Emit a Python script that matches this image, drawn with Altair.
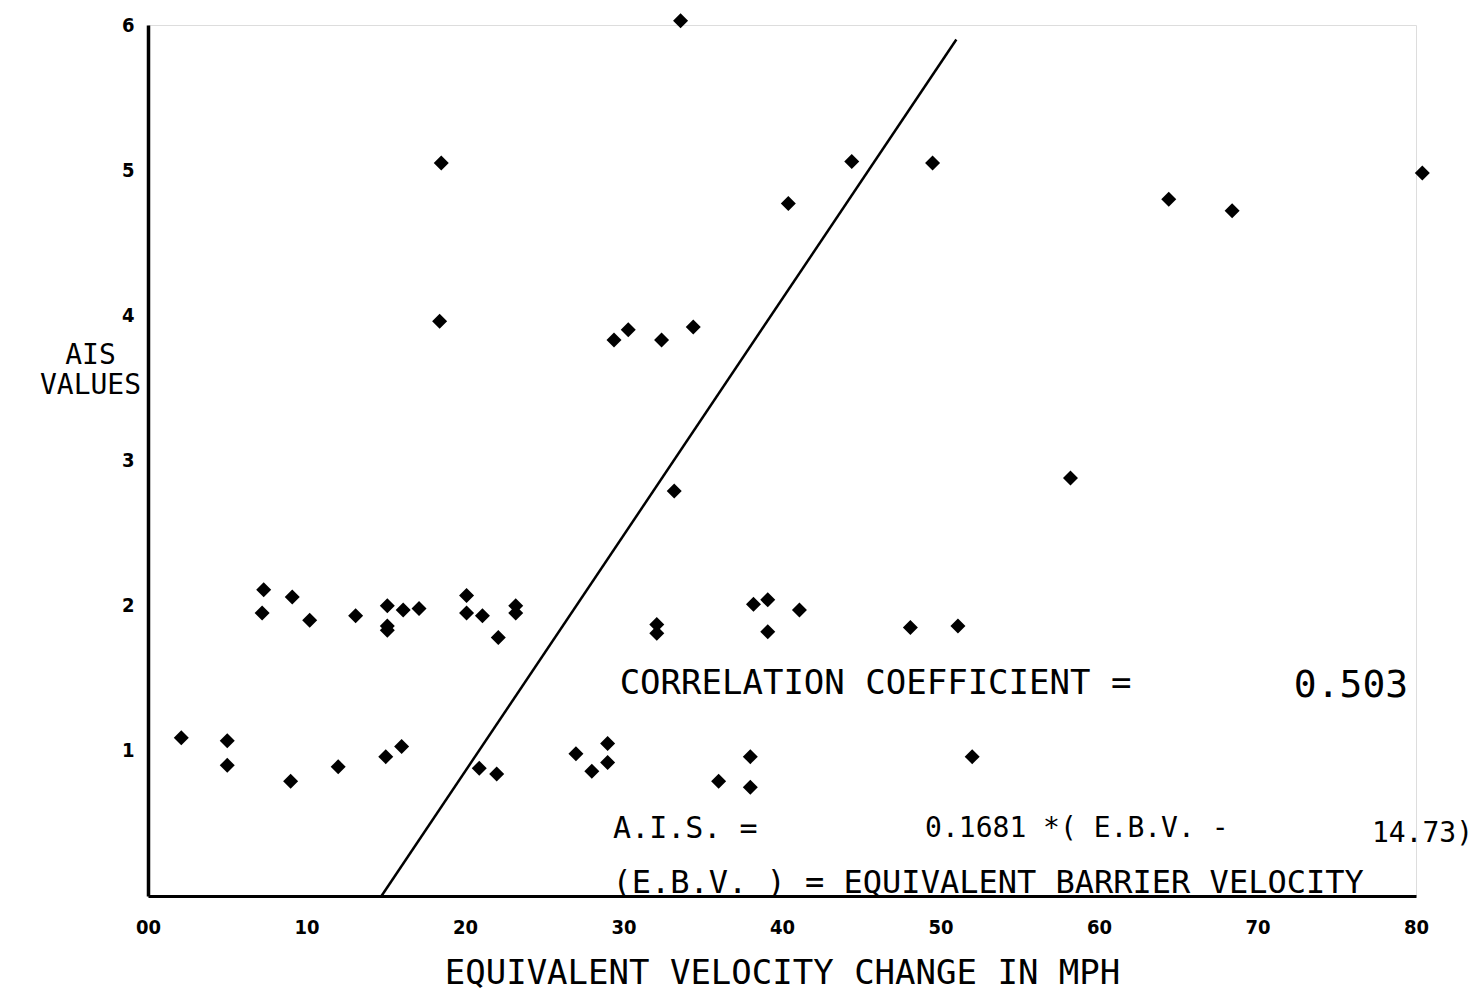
import altair as alt
import pandas as pd

# Equivalent velocity change (mph) and AIS values
ebv = [33.6, 18.5, 44.4, 49.5, 80.4, 40.4, 64.4, 68.4,
       18.4, 29.4, 30.3, 32.4, 34.4, 33.2, 58.2,
       7.3, 7.2, 9.1, 10.2, 13.1, 15.1, 15.1, 15.1, 16.1, 17.1,
       20.1, 20.1, 21.1, 22.1, 23.2, 23.2, 32.1, 32.1,
       38.2, 39.1, 39.1, 41.1, 48.1, 51.1,
       2.1, 5.0, 5.0, 9.0, 12.0, 15.0, 16.0, 20.9, 22.0,
       27.0, 28.0, 29.0, 29.0, 36.0, 38.0, 38.0, 52.0]
ais = [6.03, 5.05, 5.06, 5.05, 4.98, 4.77, 4.80, 4.72,
       3.96, 3.83, 3.90, 3.83, 3.92, 2.79, 2.88,
       2.11, 1.95, 2.06, 1.90, 1.93, 2.00, 1.86, 1.83, 1.97, 1.98,
       2.07, 1.95, 1.93, 1.78, 2.00, 1.95, 1.87, 1.81,
       2.01, 2.04, 1.82, 1.97, 1.85, 1.86,
       1.09, 1.07, 0.90, 0.79, 0.89, 0.96, 1.03, 0.88, 0.84,
       0.98, 0.86, 1.05, 0.92, 0.79, 0.96, 0.75, 0.96]

# regression line end points as drawn
line_ebv = [14.73, 51.0]
line_ais = [0.0, 5.9]

x_ticks = [0, 10, 20, 30, 40, 50, 60, 70, 80]
y_ticks = [1, 2, 3, 4, 5, 6]

MONO = "DejaVu Sans Mono"
TICKFONT = "DejaVu Sans Condensed, DejaVu Sans"

pts = pd.DataFrame({"ebv": ebv, "ais": ais})
ln = pd.DataFrame({"ebv": line_ebv, "ais": line_ais})
one = pd.DataFrame({"k": [0]})

xs = alt.Scale(domain=[0, 80], nice=False, zero=False)
ys = alt.Scale(domain=[0, 6], nice=False, zero=False)

x_axis = alt.Axis(
    values=x_ticks, format="d",
    labelExpr="datum.value == 0 ? '00' : datum.label",
    grid=False, ticks=False, domainColor="black", domainWidth=3,
    labelFont=TICKFONT, labelFontWeight="bold", labelFontSize=20, labelColor="black",
    labelPadding=21, labelFlush=False,
    title="EQUIVALENT VELOCITY CHANGE IN MPH", titleFont=MONO,
    titleFontSize=34, titleFontWeight="normal", titleColor="black",
    titleBaseline="middle", titleY=77,
)
y_axis = alt.Axis(
    values=y_ticks, format="d", grid=False, ticks=False,
    domainColor="black", domainWidth=3.5,
    labelFont=TICKFONT, labelFontWeight="bold", labelFontSize=20, labelColor="black",
    labelPadding=14, labelFlush=False,
    title=["AIS", "VALUES"], titleFont=MONO, titleFontSize=28,
    titleFontWeight="normal", titleColor="black", titleAngle=0,
    titleAlign="center", titleBaseline="middle", titleX=-58, titleY=330,
    titleLineHeight=30,
)

points = alt.Chart(pts).mark_point(
    shape="diamond", filled=True, size=225, color="black", opacity=1, clip=False
).encode(
    x=alt.X("ebv:Q", scale=xs, axis=x_axis),
    y=alt.Y("ais:Q", scale=ys, axis=y_axis),
)

line = alt.Chart(ln).mark_line(color="black", strokeWidth=2.5).encode(
    x=alt.X("ebv:Q", scale=xs),
    y=alt.Y("ais:Q", scale=ys),
)

def note(text, x, y, size, align="center"):
    return alt.Chart(one).mark_text(
        text=text, font=MONO, fontSize=size, color="black",
        align=align, baseline="middle",
    ).encode(x=alt.datum(x), y=alt.datum(y))

notes = [
    note("CORRELATION COEFFICIENT =", 45.9, 1.46, 34),
    note("0.503", 75.9, 1.45, 38),
    note("A.I.S. =", 33.9, 0.46, 30),
    note("0.1681 *( E.B.V. -", 58.6, 0.46, 28),
    note("14.73)", 83.6, 0.43, 28, align="right"),
    note("(E.B.V. ) = EQUIVALENT BARRIER VELOCITY", 53.0, 0.09, 32),
]

chart = alt.layer(line, points, *notes).properties(
    width=1268, height=871,
    autosize=alt.AutoSizeParams(type="none"),
    padding={"left": 140, "top": 17, "right": 60, "bottom": 94},
).configure_view(strokeWidth=0, strokeOpacity=0).configure(background="white")

chart.save("out.html", embed_options={"renderer": "svg", "actions": False})
